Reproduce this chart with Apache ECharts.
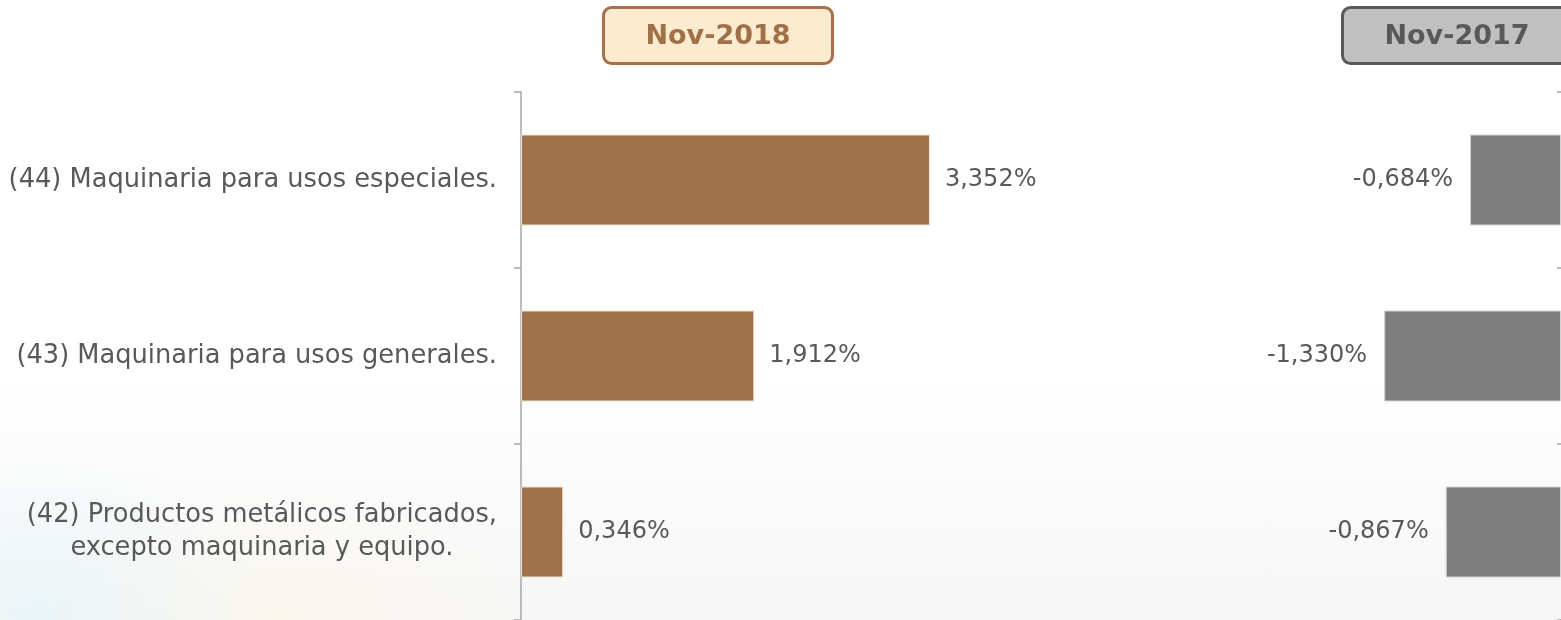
<!DOCTYPE html>
<html>
<head>
<meta charset="utf-8">
<script src="https://cdn.jsdelivr.net/npm/echarts@6/dist/echarts.min.js"></script>
<style>
  html, body { margin: 0; padding: 0; }
  body {
    width: 1561px; height: 620px; overflow: hidden;
    background:
      radial-gradient(ellipse 220px 160px at 40px 610px, rgba(220,242,248,0.45), rgba(255,255,255,0) 100%),
      radial-gradient(ellipse 260px 140px at 280px 620px, rgba(253,247,228,0.45), rgba(255,255,255,0) 100%),
      linear-gradient(to bottom, #ffffff 0%, #ffffff 60%, #f6f6f6 100%);
  }
  #chart { width: 1561px; height: 620px; }
</style>
</head>
<body>
<div id="chart"></div>
<script>
// categorías (de abajo hacia arriba)
const categories = [
  '(42) Productos metálicos fabricados,\nexcepto maquinaria y equipo.',
  '(43) Maquinaria para usos generales.',
  '(44) Maquinaria para usos especiales.'
];
const values2018 = [0.346, 1.912, 3.352];
const values2017 = [-0.867, -1.330, -0.684];
const periodLabels = ['Nov-2018', 'Nov-2017'];

const fontFam = 'DejaVu Sans';
const textGray = '#595959';
const fmt = v => v.toFixed(3).replace('.', ',') + '%';

let myChart = echarts.init(document.getElementById('chart'));
myChart.setOption({
  backgroundColor: 'transparent',
  animation: false,
  grid: [
    { left: 521, top: 92, width: 488, height: 528 },
    { left: 1162, top: 92, width: 402, height: 528 }
  ],
  xAxis: [
    { gridIndex: 0, type: 'value', min: 0, max: 4, show: false },
    { gridIndex: 1, type: 'value', min: -3, max: 0, show: false }
  ],
  yAxis: [
    {
      gridIndex: 0, type: 'category', data: categories,
      axisLine: { show: true, lineStyle: { color: '#a6a6a6', width: 1.5 } },
      axisTick: { show: true, length: 7, lineStyle: { color: '#a6a6a6', width: 1.5 } },
      axisLabel: {
        margin: 24,
        formatter: v => v.split('\n').map(s => '{a|' + s + '}').join('\n'),
        rich: {
          a: { align: 'center', color: textGray, fontSize: 25.7, fontFamily: fontFam, lineHeight: 33 }
        }
      }
    },
    {
      gridIndex: 1, type: 'category', data: categories, position: 'right',
      axisLine: { show: false },
      axisTick: { show: true, inside: true, length: 4, lineStyle: { color: '#a6a6a6', width: 1.5 } },
      axisLabel: { show: false }
    }
  ],
  series: [
    {
      type: 'bar', xAxisIndex: 0, yAxisIndex: 0, data: values2018, barWidth: 91,
      itemStyle: { color: '#a07148', borderColor: '#f0e2d4', borderWidth: 1 },
      label: {
        show: true, position: 'right', distance: 15, formatter: p => fmt(p.value),
        color: textGray, fontSize: 24, fontFamily: fontFam
      }
    },
    {
      type: 'bar', xAxisIndex: 1, yAxisIndex: 1, data: values2017, barWidth: 91,
      itemStyle: { color: '#7f7f7f', borderColor: '#d4d4d4', borderWidth: 1 },
      label: {
        show: true, position: 'left', distance: 17, formatter: p => fmt(p.value),
        color: textGray, fontSize: 24, fontFamily: fontFam
      }
    }
  ],
  graphic: [
    {
      type: 'group', left: 602, top: 6,
      children: [
        { type: 'rect', shape: { x: 0, y: 0, width: 229, height: 56, r: 8 },
          style: { fill: '#fdebd0', stroke: '#a5714a', lineWidth: 3 } },
        { type: 'text', x: 114.5, y: 29,
          style: { text: periodLabels[0], fill: '#a07148', font: 'bold 27px "' + fontFam + '"', align: 'center', verticalAlign: 'middle' } }
      ]
    },
    {
      type: 'group', left: 1341, top: 6,
      children: [
        { type: 'rect', shape: { x: 0, y: 0, width: 229, height: 56, r: 8 },
          style: { fill: '#c0c0c0', stroke: '#595959', lineWidth: 3 } },
        { type: 'text', x: 114.5, y: 29,
          style: { text: periodLabels[1], fill: '#595959', font: 'bold 27px "' + fontFam + '"', align: 'center', verticalAlign: 'middle' } }
      ]
    }
  ]
});
</script>
</body>
</html>
